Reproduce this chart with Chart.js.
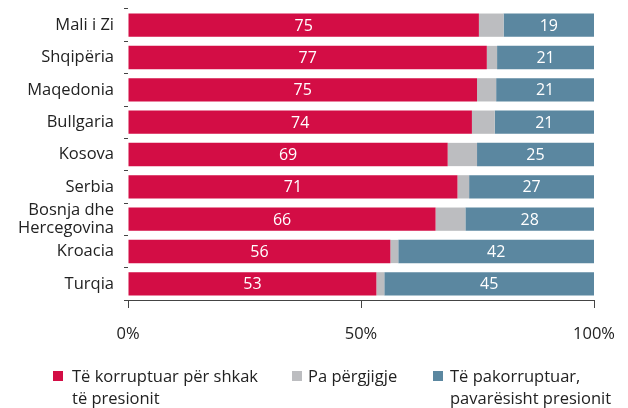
<!DOCTYPE html>
<html>
<head>
<meta charset="utf-8">
<script src="https://cdn.jsdelivr.net/npm/chart.js@4"></script>
<style>
  html, body { margin: 0; padding: 0; background: #fff; }
  #wrap { position: relative; width: 628px; height: 408px; }
  #legend { position: absolute; left: 0; top: 365px; width: 628px; font-family: "Open Sans", sans-serif; font-size: 16.5px; color: #222; line-height: 22px; }
  .item { position: absolute; top: 0; }
  .box { position: absolute; left: 0; top: 6px; width: 10px; height: 10px; }
  .txt { position: absolute; white-space: nowrap; }
</style>
</head>
<body>
<div id="wrap">
  <canvas id="chart" width="628" height="408"></canvas>
  <div id="legend"></div>
</div>
<script>
const countries = ['Mali i Zi', 'Shqipëria', 'Maqedonia', 'Bullgaria', 'Kosova', 'Serbia', ['Bosnja dhe', 'Hercegovina'], 'Kroacia', 'Turqia'];
const corrupted = [75.3, 77, 74.9, 73.8, 68.6, 70.7, 66, 56.3, 53.3];
const noAnswer = [5.3, 2.2, 4.1, 4.9, 6.3, 2.5, 6.4, 1.7, 1.7];
const notCorrupted = [19.4, 20.8, 21, 21.3, 25.1, 26.8, 27.6, 42, 45];
const seriesNames = [['Të korruptuar për shkak', 'të presionit'], ['Pa përgjigje'], ['Të pakorruptuar,', 'pavarësisht presionit']];
const colors = ['#d30d45', '#bcbdc0', '#5b87a0'];
const xTicks = [0, 50, 100];

const font = '"Open Sans", sans-serif';

// white numbers inside red and blue parts
const barLabels = {
  id: 'barLabels',
  afterDatasetsDraw(chart) {
    const ctx = chart.ctx;
    ctx.save();
    ctx.fillStyle = '#fff';
    ctx.font = '16px ' + font;
    ctx.textAlign = 'center';
    ctx.textBaseline = 'middle';
    [0, 2].forEach(di => {
      chart.getDatasetMeta(di).data.forEach((bar, i) => {
        const v = chart.data.datasets[di].data[i];
        ctx.fillText(Math.round(v), (bar.x + bar.base) / 2, bar.y + 1);
      });
    });
    ctx.restore();
  }
};

new Chart(document.getElementById('chart'), {
  type: 'bar',
  data: {
    labels: countries,
    datasets: [
      { label: 'a', data: corrupted, backgroundColor: colors[0] },
      { label: 'b', data: noAnswer, backgroundColor: colors[1] },
      { label: 'c', data: notCorrupted, backgroundColor: colors[2] }
    ]
  },
  options: {
    indexAxis: 'y',
    responsive: false,
    animation: false,
    layout: { padding: { top: 9, right: 34, bottom: 48, left: 0 } },
    datasets: { bar: { barPercentage: 0.72, categoryPercentage: 1 } },
    plugins: { legend: { display: false }, tooltip: { enabled: false } },
    scales: {
      x: {
        stacked: true,
        min: 0,
        max: 100,
        afterBuildTicks: s => { s.ticks = xTicks.map(v => ({ value: v })); },
        afterFit: s => { s.height = 60; s.paddingLeft = 0; s.paddingRight = 0; s.paddingTop = 0; s.paddingBottom = 0; },
        ticks: { callback: v => v + '%', color: '#222', font: { family: font, size: 16.5 }, padding: 16, maxRotation: 0 },
        grid: { drawOnChartArea: false, tickLength: 8, color: '#444' },
        border: { display: true, color: '#444' }
      },
      y: {
        stacked: true,
        afterFit: s => { s.width = 128; s.paddingTop = 0; s.paddingBottom = 0; },
        ticks: { autoSkip: false, color: '#222', font: { family: font, size: 16.5, lineHeight: 1.05 }, padding: 10 },
        grid: { drawOnChartArea: false, offset: true, tickLength: 4, color: '#444' },
        border: { display: false }
      }
    }
  },
  plugins: [barLabels]
});

// legend below the chart
const legendX = [[53, 72], [292, 308], [433, 450]];
const legend = document.getElementById('legend');
seriesNames.forEach((name, i) => {
  const item = document.createElement('div');
  item.className = 'item';
  item.style.left = legendX[i][0] + 'px';
  item.innerHTML = `<div class="box" style="background:${colors[i]}"></div>` +
    `<div class="txt" style="left:${legendX[i][1] - legendX[i][0]}px">${name.join('<br>')}</div>`;
  legend.appendChild(item);
});
</script>
</body>
</html>
